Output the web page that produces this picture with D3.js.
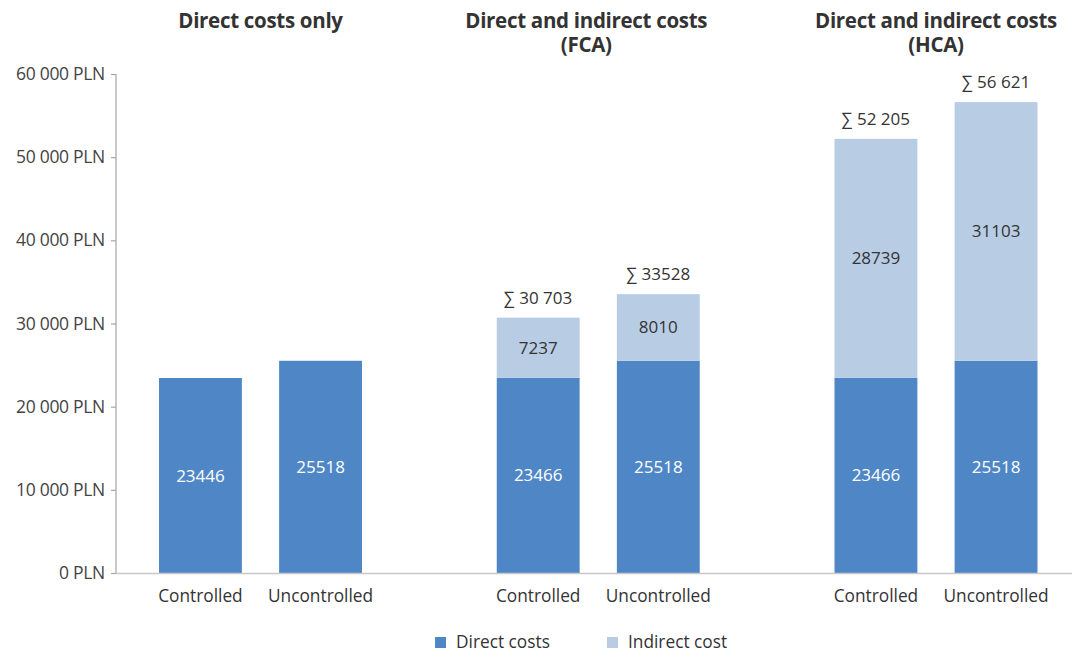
<!DOCTYPE html>
<html>
<head>
<meta charset="utf-8">
<script src="https://cdnjs.cloudflare.com/ajax/libs/d3/7.8.5/d3.min.js"></script>
<style>
  body { margin: 0; background: #fff; }
  text { font-family: "Open Sans", "Noto Sans", sans-serif; }
</style>
</head>
<body>
<script>
// Data
const groups = ["Direct costs only", "Direct and indirect costs (FCA)", "Direct and indirect costs (HCA)"];
const titleLines = [["Direct costs only"], ["Direct and indirect costs", "(FCA)"], ["Direct and indirect costs", "(HCA)"]];
const categories = ["Controlled", "Uncontrolled"];
const directCosts = [[23446, 25518], [23466, 25518], [23466, 25518]];
const indirectCosts = [[0, 0], [7237, 8010], [28739, 31103]];
const totalLabels = [[null, null], ["∑ 30 703", "∑ 33528"], ["∑ 52 205", "∑ 56 621"]];
const yTicks = [0, 10000, 20000, 30000, 40000, 50000, 60000];

const w = 1077;
const h = 652;

const directColor = "#4f87c6";
const indirectColor = "#b8cce4";

const svg = d3.select("body")
    .append("svg")
    .attr("width", w)
    .attr("height", h);

// Scales
const y = d3.scaleLinear()
    .domain([0, 60000])
    .range([573, 74]);

const x0 = d3.scalePoint()
    .domain(groups)
    .range([260.5, 936]);

const x1 = d3.scaleBand()
    .domain(categories)
    .range([-101.5, 101.5])
    .paddingInner(0.31);

// Y axis
const yAxis = d3.axisLeft(y)
    .tickValues(yTicks)
    .tickSize(5)
    .tickPadding(6)
    .tickFormat(d => d3.format(",")(d).replace(/,/g, " ") + " PLN");

const gy = svg.append("g")
    .attr("transform", "translate(116,0)")
    .call(yAxis);
gy.select(".domain").attr("stroke", "#a6a6a6").attr("stroke-width", 1.2)
    .attr("d", "M-5,74.5H0V573.5");
gy.selectAll(".tick line").attr("stroke", "#a6a6a6").attr("stroke-width", 1.2);
gy.selectAll(".tick text")
    .attr("fill", "#444")
    .style("font-size", "17.5px")
    .style("letter-spacing", "-0.3px")
    .style("font-family", "\"Open Sans\", sans-serif");

// Build flat bar records
const bars = [];
groups.forEach((g, gi) => {
    categories.forEach((c, ci) => {
        bars.push({
            group: g, cat: c,
            direct: directCosts[gi][ci],
            indirect: indirectCosts[gi][ci],
            total: totalLabels[gi][ci]
        });
    });
});

const barX = d => x0(d.group) + x1(d.cat);

// Direct segments
svg.selectAll("rect.direct")
    .data(bars)
    .enter()
    .append("rect")
    .attr("class", "direct")
    .attr("x", barX)
    .attr("y", d => y(d.direct))
    .attr("width", x1.bandwidth())
    .attr("height", d => y(0) - y(d.direct))
    .attr("fill", directColor);

// Indirect segments
svg.selectAll("rect.indirect")
    .data(bars.filter(d => d.indirect > 0))
    .enter()
    .append("rect")
    .attr("class", "indirect")
    .attr("x", barX)
    .attr("y", d => y(d.direct + d.indirect))
    .attr("width", x1.bandwidth())
    .attr("height", d => y(d.direct) - y(d.direct + d.indirect))
    .attr("fill", indirectColor);

// Baseline
svg.append("line")
    .attr("x1", 116).attr("x2", 1072)
    .attr("y1", y(0) + 0.5).attr("y2", y(0) + 0.5)
    .attr("stroke", "#c8c8c8")
    .attr("stroke-width", 1.5);

// Value labels
svg.selectAll("text.dlabel")
    .data(bars)
    .enter()
    .append("text")
    .attr("class", "dlabel")
    .attr("x", d => barX(d) + x1.bandwidth() / 2)
    .attr("y", d => y(d.direct / 2) + 6)
    .attr("text-anchor", "middle")
    .attr("fill", "#fff")
    .style("font-size", "17px")
    .text(d => d.direct);

svg.selectAll("text.ilabel")
    .data(bars.filter(d => d.indirect > 0))
    .enter()
    .append("text")
    .attr("class", "ilabel")
    .attr("x", d => barX(d) + x1.bandwidth() / 2)
    .attr("y", d => y(d.direct + d.indirect / 2) + 6)
    .attr("text-anchor", "middle")
    .attr("fill", "#333")
    .style("font-size", "17px")
    .text(d => d.indirect);

svg.selectAll("text.total")
    .data(bars.filter(d => d.total))
    .enter()
    .append("text")
    .attr("class", "total")
    .attr("x", d => barX(d) + x1.bandwidth() / 2)
    .attr("y", d => y(d.direct + d.indirect) - 14)
    .attr("text-anchor", "middle")
    .attr("fill", "#333")
    .style("font-size", "17px")
    .text(d => d.total);

// Category labels
svg.selectAll("text.cat")
    .data(bars)
    .enter()
    .append("text")
    .attr("class", "cat")
    .attr("x", d => barX(d) + x1.bandwidth() / 2)
    .attr("y", 602)
    .attr("text-anchor", "middle")
    .attr("fill", "#333")
    .style("font-size", "17.3px")
    .text(d => d.cat);

// Group titles (one text per line)
groups.forEach((g, gi) => {
    titleLines[gi].forEach((line, li) => {
        svg.append("text")
            .attr("x", x0(g) - (gi === 1 ? 12 : 0))
            .attr("y", 28 + li * 24)
            .attr("text-anchor", "middle")
            .attr("fill", "#333")
            .style("font-size", "20.5px")
            .style("font-weight", "bold")
            .style("letter-spacing", "-0.3px")
            .text(line);
    });
});

// Legend
const legendItems = [
    { label: "Direct costs", color: directColor, x: 435 },
    { label: "Indirect cost", color: indirectColor, x: 607 }
];
const lg = svg.selectAll("g.legend")
    .data(legendItems)
    .enter()
    .append("g")
    .attr("class", "legend")
    .attr("transform", d => "translate(" + d.x + ",637)");
lg.append("rect")
    .attr("width", 11).attr("height", 11)
    .attr("fill", d => d.color);
lg.append("text")
    .attr("x", 21).attr("y", 11)
    .attr("fill", "#333")
    .style("font-size", "17.3px")
    .text(d => d.label);
</script>
</body>
</html>
